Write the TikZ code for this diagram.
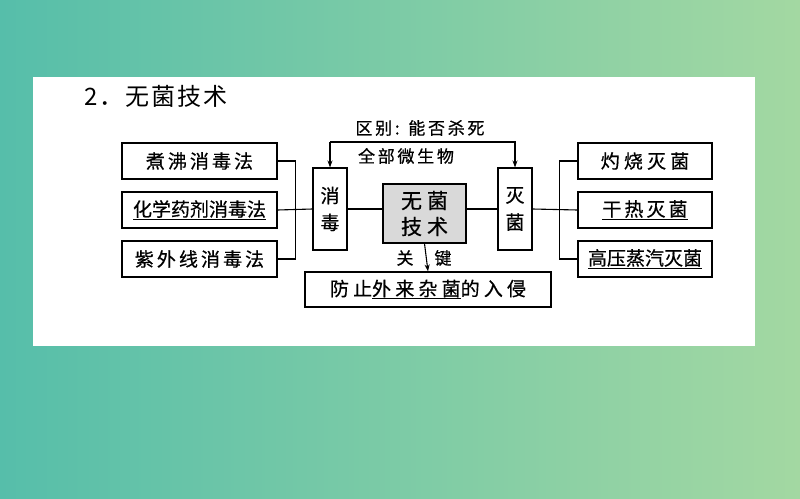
\documentclass[tikz,border=0pt]{standalone}
\usepackage{fontspec}
\usepackage{tikz}
\usetikzlibrary{arrows.meta}
\newfontfamily\cjk[FakeBold=0.6]{Noto Sans CJK SC}
\newfontfamily\cjkw[FakeBold=0.6,LetterSpace=16]{Noto Sans CJK SC}
\newfontfamily\cjkww[FakeBold=0.6,LetterSpace=22]{Noto Sans CJK SC}
\newfontfamily\cjkt[LetterSpace=8]{Noto Sans CJK SC}
\definecolor{bgleft}{RGB}{86,190,170}
\definecolor{bgright}{RGB}{163,216,162}
\definecolor{boxgray}{RGB}{217,217,217}
\tikzset{
  item/.style={draw, line width=1.1pt, minimum width=155pt, minimum height=36pt, inner sep=0pt, font=\cjk\fontsize{19}{19}\selectfont},
  tall/.style={draw, line width=1.1pt, minimum width=34pt, minimum height=82pt, inner sep=0pt, align=center, font=\cjk\fontsize{19}{27}\selectfont},
  lab/.style={inner sep=0pt, font=\cjkw\fontsize{17}{17}\selectfont},
  conn/.style={line width=1.1pt},
  tip/.style={-{Stealth[length=7pt,width=5pt]}}
}
\begin{document}
\begin{tikzpicture}[x=1pt,y=-1pt]
\useasboundingbox (0,0) rectangle (800,498);
\shade[left color=bgleft, right color=bgright] (0,0) rectangle (800,498);
\fill[white] (33,77) rectangle (755,346);

% title
\node (ttl) [anchor=west, inner sep=0pt, font=\cjkt\fontsize{24}{24}\selectfont] at (84,96) {2．无菌技术};

% left boxes
\node (zf) [item] at (199.5,161) {\cjkw 煮沸消毒法};
\node (hx) [item] at (199.5,210) {\underline{化学药剂消毒法}};
\node (zw) [item] at (199.5,259) {\cjkw 紫外线消毒法};

% centre column
\node (xd) [tall] at (330,209) {消\\毒};
\node (wj) [draw, line width=1.1pt, fill=boxgray, minimum width=83pt, minimum height=59pt, inner sep=0pt, align=center, font=\cjk\fontsize{21}{26}\selectfont] at (424.5,213.5) {无\hspace{5pt}菌\\技\hspace{5pt}术};
\node (mj) [tall] at (515,209) {灭\\菌};
\node (fz) [item, minimum width=246pt, minimum height=35pt, font=\cjkww\fontsize{19}{19}\selectfont] at (428,289.5) {防止\underline{外来杂菌}的入侵};

% right boxes
\node (zs) [item, minimum width=134pt, font=\cjkww\fontsize{19}{19}\selectfont] at (645,161) {灼烧灭菌};
\node (gr) [item, minimum width=134pt] at (645,210) {\underline{\cjkw 干热灭菌}};
\node (gy) [item, minimum width=134pt] at (645,259) {\underline{高压蒸汽灭菌}};

% left bracket
\draw[conn] (zf.east) -- ++(18,0) |- (zw.east);
\draw[conn] (hx.east) -- (xd.west);

% right bracket
\draw[conn] (zs.west) -- ++(-18,0) |- (gy.west);
\draw[conn] (gr.west) -- (mj.east);

% centre links
\draw[conn] (xd.east) -- (xd.east -| wj.west);
\draw[conn] (wj.east |- mj.west) -- (mj.west);

% difference arrow
\coordinate (top) at (330,142);
\draw[conn, tip] (top) -| (mj.north);
\draw[conn, tip] (top) -- (xd.north);
\node (qb) [lab] at (420,128) {区别: 能否杀死};
\node (qw) [lab] at (406,156) {全部微生物};

% key arrow
\draw[conn, tip] (wj.south) -- (fz.north);
\node (gn) [lab] at (405,258) {关};
\node (jn) [lab] at (443,258) {键};

\end{tikzpicture}
\end{document}
